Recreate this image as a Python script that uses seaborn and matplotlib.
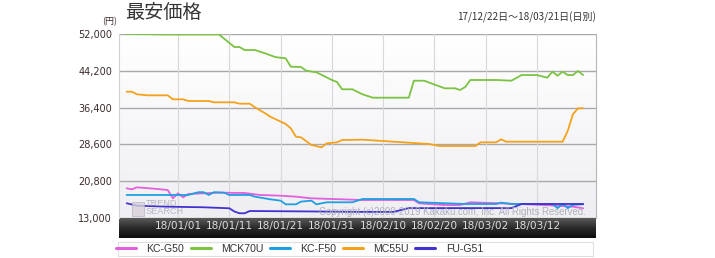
import numpy as np
import pandas as pd
import matplotlib
matplotlib.use("Agg")
import matplotlib.pyplot as plt
import matplotlib.dates as mdates
from matplotlib.colors import LinearSegmentedColormap
from matplotlib.patches import Rectangle
from matplotlib.lines import Line2D
import seaborn as sns

# ---------------- data ----------------
START = pd.Timestamp("2017-12-22")

models = ["KC-G50", "MCK70U", "KC-F50", "MC55U", "FU-G51"]
model_colors = ["#e35fdd", "#7cc243", "#1e9fe0", "#f4a11c", "#4232cf"]

# day offsets from 17/12/22 and price (yen) at each change point
kcg50_days = [0, 1, 2, 6, 8, 9, 10, 11, 12, 18, 23, 26, 30, 33, 36, 42, 46, 56, 57, 62, 65, 67, 71, 78, 84, 87, 89]
kcg50_vals = [19290, 19080, 19500, 19150, 18930, 17170, 18230, 17380, 18090, 18370, 18300, 17880, 17730, 17520, 17170, 16960, 16810, 16810, 16110, 15750, 15750, 16330, 16180, 15900, 15610, 15400, 15060]

mck70u_days = [0, 8, 18, 21, 22, 23, 25, 27, 29, 31, 32, 34, 35, 37, 40, 41, 42, 44, 46, 48, 55, 56, 58, 62, 64, 65, 66, 67, 72, 75, 77, 80, 82, 83, 84, 85, 86, 87, 88, 89]
mck70u_vals = [52000, 51900, 51900, 49240, 49240, 48600, 48600, 47900, 47100, 46850, 45070, 45000, 44220, 43880, 42250, 41830, 40280, 40280, 39200, 38500, 38500, 42100, 42100, 40490, 40490, 40130, 40770, 42250, 42250, 42100, 43300, 43300, 42740, 44010, 43160, 44010, 43300, 43300, 44160, 43300]

kcf50_days = [0, 12, 14, 15, 16, 17, 19, 20, 24, 25, 28, 30, 31, 33, 34, 36, 37, 39, 44, 46, 56, 57, 66, 72, 73, 75, 80, 83, 84, 85, 86, 87, 89]
kcf50_vals = [17880, 17880, 18470, 18470, 17880, 18470, 18370, 17880, 17880, 17520, 16960, 16680, 15900, 15900, 16470, 16680, 15900, 16330, 16330, 17030, 17030, 16330, 15970, 15970, 16250, 15970, 15970, 15970, 15100, 15970, 15100, 15800, 15900]

mc55u_days = [0, 1, 2, 4, 8, 9, 11, 12, 16, 17, 21, 22, 24, 25, 27, 28, 31, 32, 33, 34, 36, 38, 39, 41, 42, 46, 59, 61, 68, 69, 72, 73, 74, 85, 86, 87, 88, 89]
mc55u_vals = [39770, 39770, 39220, 39000, 39000, 38160, 38160, 37800, 37800, 37520, 37520, 37230, 37230, 36460, 35190, 34470, 32920, 32010, 30230, 30100, 28470, 27980, 28830, 29040, 29530, 29600, 28680, 28260, 28260, 29040, 29040, 29670, 29170, 29170, 31500, 35000, 36250, 36250]

fug51_days = [0, 2, 8, 15, 20, 21, 22, 23, 24, 37, 45, 52, 55, 75, 77, 89]
fug51_vals = [16120, 15610, 15400, 15270, 15060, 14380, 14000, 14000, 14480, 14380, 14300, 14300, 15100, 15100, 15970, 15970]

y_ticks = [13000, 20800, 28600, 36400, 44200, 52000]
y_tick_labels = ["13,000", "20,800", "28,600", "36,400", "44,200", "52,000"]
x_tick_dates = ["2018-01-01", "2018-01-11", "2018-01-21", "2018-01-31",
                "2018-02-10", "2018-02-20", "2018-03-02", "2018-03-12"]
x_tick_labels = ["18/01/01", "18/01/11", "18/01/21", "18/01/31",
                 "18/02/10", "18/02/20", "18/03/02", "18/03/12"]

title_text = "最安価格"
unit_text = "(円)"
range_text = "17/12/22日～18/03/21日(日別)"
copyright_text = "Copyright (c)2000-2019 Kakaku.com, Inc. All Rights Reserved."

# ---------------- build table ----------------
frames = []
for name, days, vals in [("KC-G50", kcg50_days, kcg50_vals),
                         ("MCK70U", mck70u_days, mck70u_vals),
                         ("KC-F50", kcf50_days, kcf50_vals),
                         ("MC55U", mc55u_days, mc55u_vals),
                         ("FU-G51", fug51_days, fug51_vals)]:
    frames.append(pd.DataFrame({
        "date": START + pd.to_timedelta(days, unit="D"),
        "price": vals,
        "model": name,
    }))
df = pd.concat(frames, ignore_index=True)

# ---------------- figure ----------------
sns.set_theme(style="white")
plt.rcParams["font.family"] = ["DejaVu Sans"]

W, H = 715, 258
fig = plt.figure(figsize=(W / 100, H / 100), dpi=100)
fig.patch.set_facecolor("white")

def fx(px):
    return px / W

def fy(py):
    return 1 - py / H

L, R, T, B = 119, 596, 34, 218

# dark band under the plot (tick label strip)
band = fig.add_axes([fx(L), fy(238), fx(R - L), (238 - B) / H])
band_cmap = LinearSegmentedColormap.from_list("band", ["#5a5a5a", "#2a2a2a", "#0c0c0c"])
band.imshow(np.linspace(0, 1, 64).reshape(-1, 1), aspect="auto", cmap=band_cmap,
            extent=[0, 1, 0, 1])
band.set_axis_off()
band.set_zorder(0)

ax = fig.add_axes([fx(L), fy(B), fx(R - L), (B - T) / H])
ax.set_zorder(1)

x0 = mdates.date2num(START - pd.Timedelta(hours=36))
x1 = mdates.date2num(START + pd.Timedelta(days=91, hours=12))
y0, y1 = 13000, 52000

bg_cmap = LinearSegmentedColormap.from_list("bg", ["#ffffff", "#f7f7f9", "#efeff3"])
ax.imshow(np.linspace(0, 1, 128).reshape(-1, 1), aspect="auto", cmap=bg_cmap,
          extent=[x0, x1, y0, y1], zorder=0)

palette = dict(zip(models, model_colors))
sns.lineplot(data=df, x="date", y="price", hue="model", hue_order=models,
             palette=palette, estimator=None, sort=False, linewidth=1.3,
             legend=False, ax=ax, zorder=3)

ax.set_xlim(x0, x1)
ax.set_ylim(y0, y1)
ax.set_xlabel("")
ax.set_ylabel("")

ax.set_yticks(y_ticks)
ax.set_yticklabels(y_tick_labels)
ax.set_xticks([mdates.date2num(pd.Timestamp(d)) for d in x_tick_dates])
ax.set_xticklabels(x_tick_labels)
ax.tick_params(axis="y", length=0, pad=5, labelsize=7, labelcolor="#3b2b2b")
ax.tick_params(axis="x", length=0, pad=2, labelsize=7.6, labelcolor="#dddddd")

ax.grid(False)
for yv in y_ticks:
    ax.axhline(yv, color="#a9a9a9", lw=1.0, zorder=1)
for xv in ax.get_xticks():
    ax.axvline(xv, color="#d8d8dc", lw=0.8, zorder=1)

for side in ["top", "bottom"]:
    ax.spines[side].set_visible(False)
ax.spines["left"].set_color("#d0d0d0")
ax.spines["left"].set_linewidth(0.8)
ax.spines["right"].set_color("#b5b5b5")
ax.spines["right"].set_linewidth(0.8)

# watermark logo + copyright
fig.patches.append(Rectangle((fx(132), fy(216)), 12 / W, 14 / H, transform=fig.transFigure,
                             facecolor="#d8d0d8", edgecolor="#b8b0c0", lw=0.6, alpha=0.8, zorder=2))
fig.text(fx(146), fy(204), "TREND", fontsize=6.6, color="#b4b4c4", va="center", ha="left",
         family=["Liberation Sans", "DejaVu Sans"], zorder=2)
fig.text(fx(146), fy(212), "SEARCH", fontsize=6.6, color="#b4b4c4", va="center", ha="left",
         family=["Liberation Sans", "DejaVu Sans"], zorder=2)
fig.text(fx(586), fy(212), copyright_text, fontsize=6.9, color="#b0b0b8", va="center",
         ha="right", family=["Liberation Sans", "DejaVu Sans"], zorder=5)

# titles
cjk = ["Noto Sans CJK JP", "DejaVu Sans"]
fig.text(fx(125), fy(12), title_text, fontsize=13.8, color="#333333", va="center",
         ha="left", family=cjk)
fig.text(fx(110), fy(22), unit_text, fontsize=6.5, color="#3b2b2b", va="center",
         ha="center", family=cjk)
fig.text(fx(596), fy(17), range_text, fontsize=7.2, color="#333333", va="center",
         ha="right", family=cjk)

# legend
fig.patches.append(Rectangle((fx(118), fy(256)), 475 / W, 14 / H, transform=fig.transFigure,
                             facecolor="white", edgecolor="#dedede", lw=0.8, zorder=1))
handles = [Line2D([], [], color=c, lw=2.2) for c in model_colors]
fig.legend(handles, models, loc="center left", bbox_to_anchor=(fx(116), fy(249)),
           ncol=5, frameon=False, handlelength=1.9, handletextpad=1.0,
           columnspacing=0.6, borderpad=0.0, borderaxespad=0.0,
           labelcolor="#333333", prop={"family": ["Liberation Sans", "DejaVu Sans"], "size": 7.6})

fig.savefig("out.png", dpi=100, facecolor="white")
